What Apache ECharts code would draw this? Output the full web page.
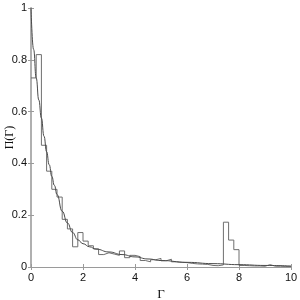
<!DOCTYPE html>
<html><head><meta charset="utf-8">
<script src="https://cdn.jsdelivr.net/npm/echarts@6/dist/echarts.min.js"></script>
<style>html,body{margin:0;padding:0;background:#fff}#c{width:300px;height:300px}</style>
</head><body><div id="c"></div>
<script>
// Histogram: bin width 0.2 from 0 to 10
var binWidth = 0.2;
var histValues = [0.73, 0.82, 0.47, 0.37, 0.30, 0.27, 0.184, 0.147, 0.078, 0.133,
  0.10, 0.082, 0.07, 0.048, 0.055, 0.05, 0.045, 0.062, 0.036, 0.045,
  0.04, 0.025, 0.02, 0.028, 0.033, 0.024, 0.03, 0.02, 0.018, 0.017,
  0.014, 0.012, 0.011, 0.01, 0.006, 0.005, 0.008, 0.173, 0.104, 0.067,
  0.006, 0.005, 0.004, 0.004, 0.003, 0.009, 0.003, 0.003, 0.002, 0.002];
// Smooth curve
var curveX = [0, 0.1, 0.2, 0.3, 0.4, 0.5, 0.6, 0.7, 0.8, 0.9, 1.0, 1.2, 1.4, 1.6, 1.8, 2.0, 2.25, 2.5, 3.0, 3.5, 4.0, 4.5, 5.0, 6.0, 7.0, 8.0, 9.0, 10.0];
var curveY = [1.0, 0.84, 0.73, 0.645, 0.575, 0.505, 0.445, 0.395, 0.35, 0.315, 0.28, 0.215, 0.17, 0.133, 0.105, 0.09, 0.078, 0.069, 0.058, 0.048, 0.039, 0.031, 0.025, 0.018, 0.013, 0.009, 0.006, 0.004];
var xTicks = [0, 2, 4, 6, 8, 10];
var yTicks = [0, 0.2, 0.4, 0.6, 0.8, 1];

var histData = histValues.map(function(v, i){ return [+(i*binWidth).toFixed(2), v]; });
histData.push([10, histValues[histValues.length-1]]);
var curveData = curveX.map(function(x, i){ return [x, curveY[i]]; });

var chart = echarts.init(document.getElementById('c'), null, {renderer:'canvas'});
chart.setOption({
  animation:false,
  grid:{left:31, right:9, top:8, bottom:33, containLabel:false, outerBoundsMode:'none'},
  xAxis:[{
    type:'value', min:0, max:10, interval:2,
    axisLine:{show:true, lineStyle:{color:'#9a9a9a'}},
    axisTick:{show:true, inside:true, length:3, lineStyle:{color:'#9a9a9a'}},
    axisLabel:{color:'#111', fontFamily:'Liberation Sans', fontSize:11, margin:5,
      formatter:function(v){ return xTicks.indexOf(v)>=0 ? String(v) : ''; }},
    splitLine:{show:false},
    name:'Γ', nameLocation:'middle', nameGap:21, nameMoveOverlap:false,
    nameTextStyle:{fontFamily:'Liberation Serif', fontSize:13, color:'#111'}
  },{
    type:'value', min:0, max:10, interval:2, position:'top',
    axisLine:{show:true, lineStyle:{color:'#9a9a9a'}},
    axisTick:{show:true, inside:true, length:3, lineStyle:{color:'#9a9a9a'}},
    axisLabel:{show:false}, splitLine:{show:false}
  }],
  yAxis:[{
    type:'value', min:0, max:1, interval:0.2,
    axisLine:{show:true, lineStyle:{color:'#9a9a9a'}},
    axisTick:{show:true, inside:true, length:3, lineStyle:{color:'#9a9a9a'}},
    axisLabel:{color:'#111', fontFamily:'Liberation Sans', fontSize:11, margin:4,
      formatter:function(v){ var r=Math.round(v*10)/10; return String(r); }},
    splitLine:{show:false},
    name:'Π(Γ)', nameLocation:'middle', nameGap:21, nameRotate:90, nameMoveOverlap:false,
    nameTextStyle:{fontFamily:'Liberation Serif', fontSize:12, color:'#111',
      align:'center', verticalAlign:'middle'}
  },{
    type:'value', min:0, max:1, interval:0.2, position:'right',
    axisLine:{show:true, lineStyle:{color:'#b0b0b0', width:2}},
    axisTick:{show:true, inside:true, length:3, lineStyle:{color:'#9a9a9a'}},
    axisLabel:{show:false}, splitLine:{show:false}
  }],
  series:[{
    type:'line', step:'end', data:histData, showSymbol:false, symbol:'none',
    lineStyle:{color:'#6e6e6e', width:1}, z:2
  },{
    type:'line', data:curveData, showSymbol:false, symbol:'none', smooth:true, smoothMonotone:'x',
    lineStyle:{color:'#4a4a4a', width:1}, z:3
  }]
});
</script></body></html>
